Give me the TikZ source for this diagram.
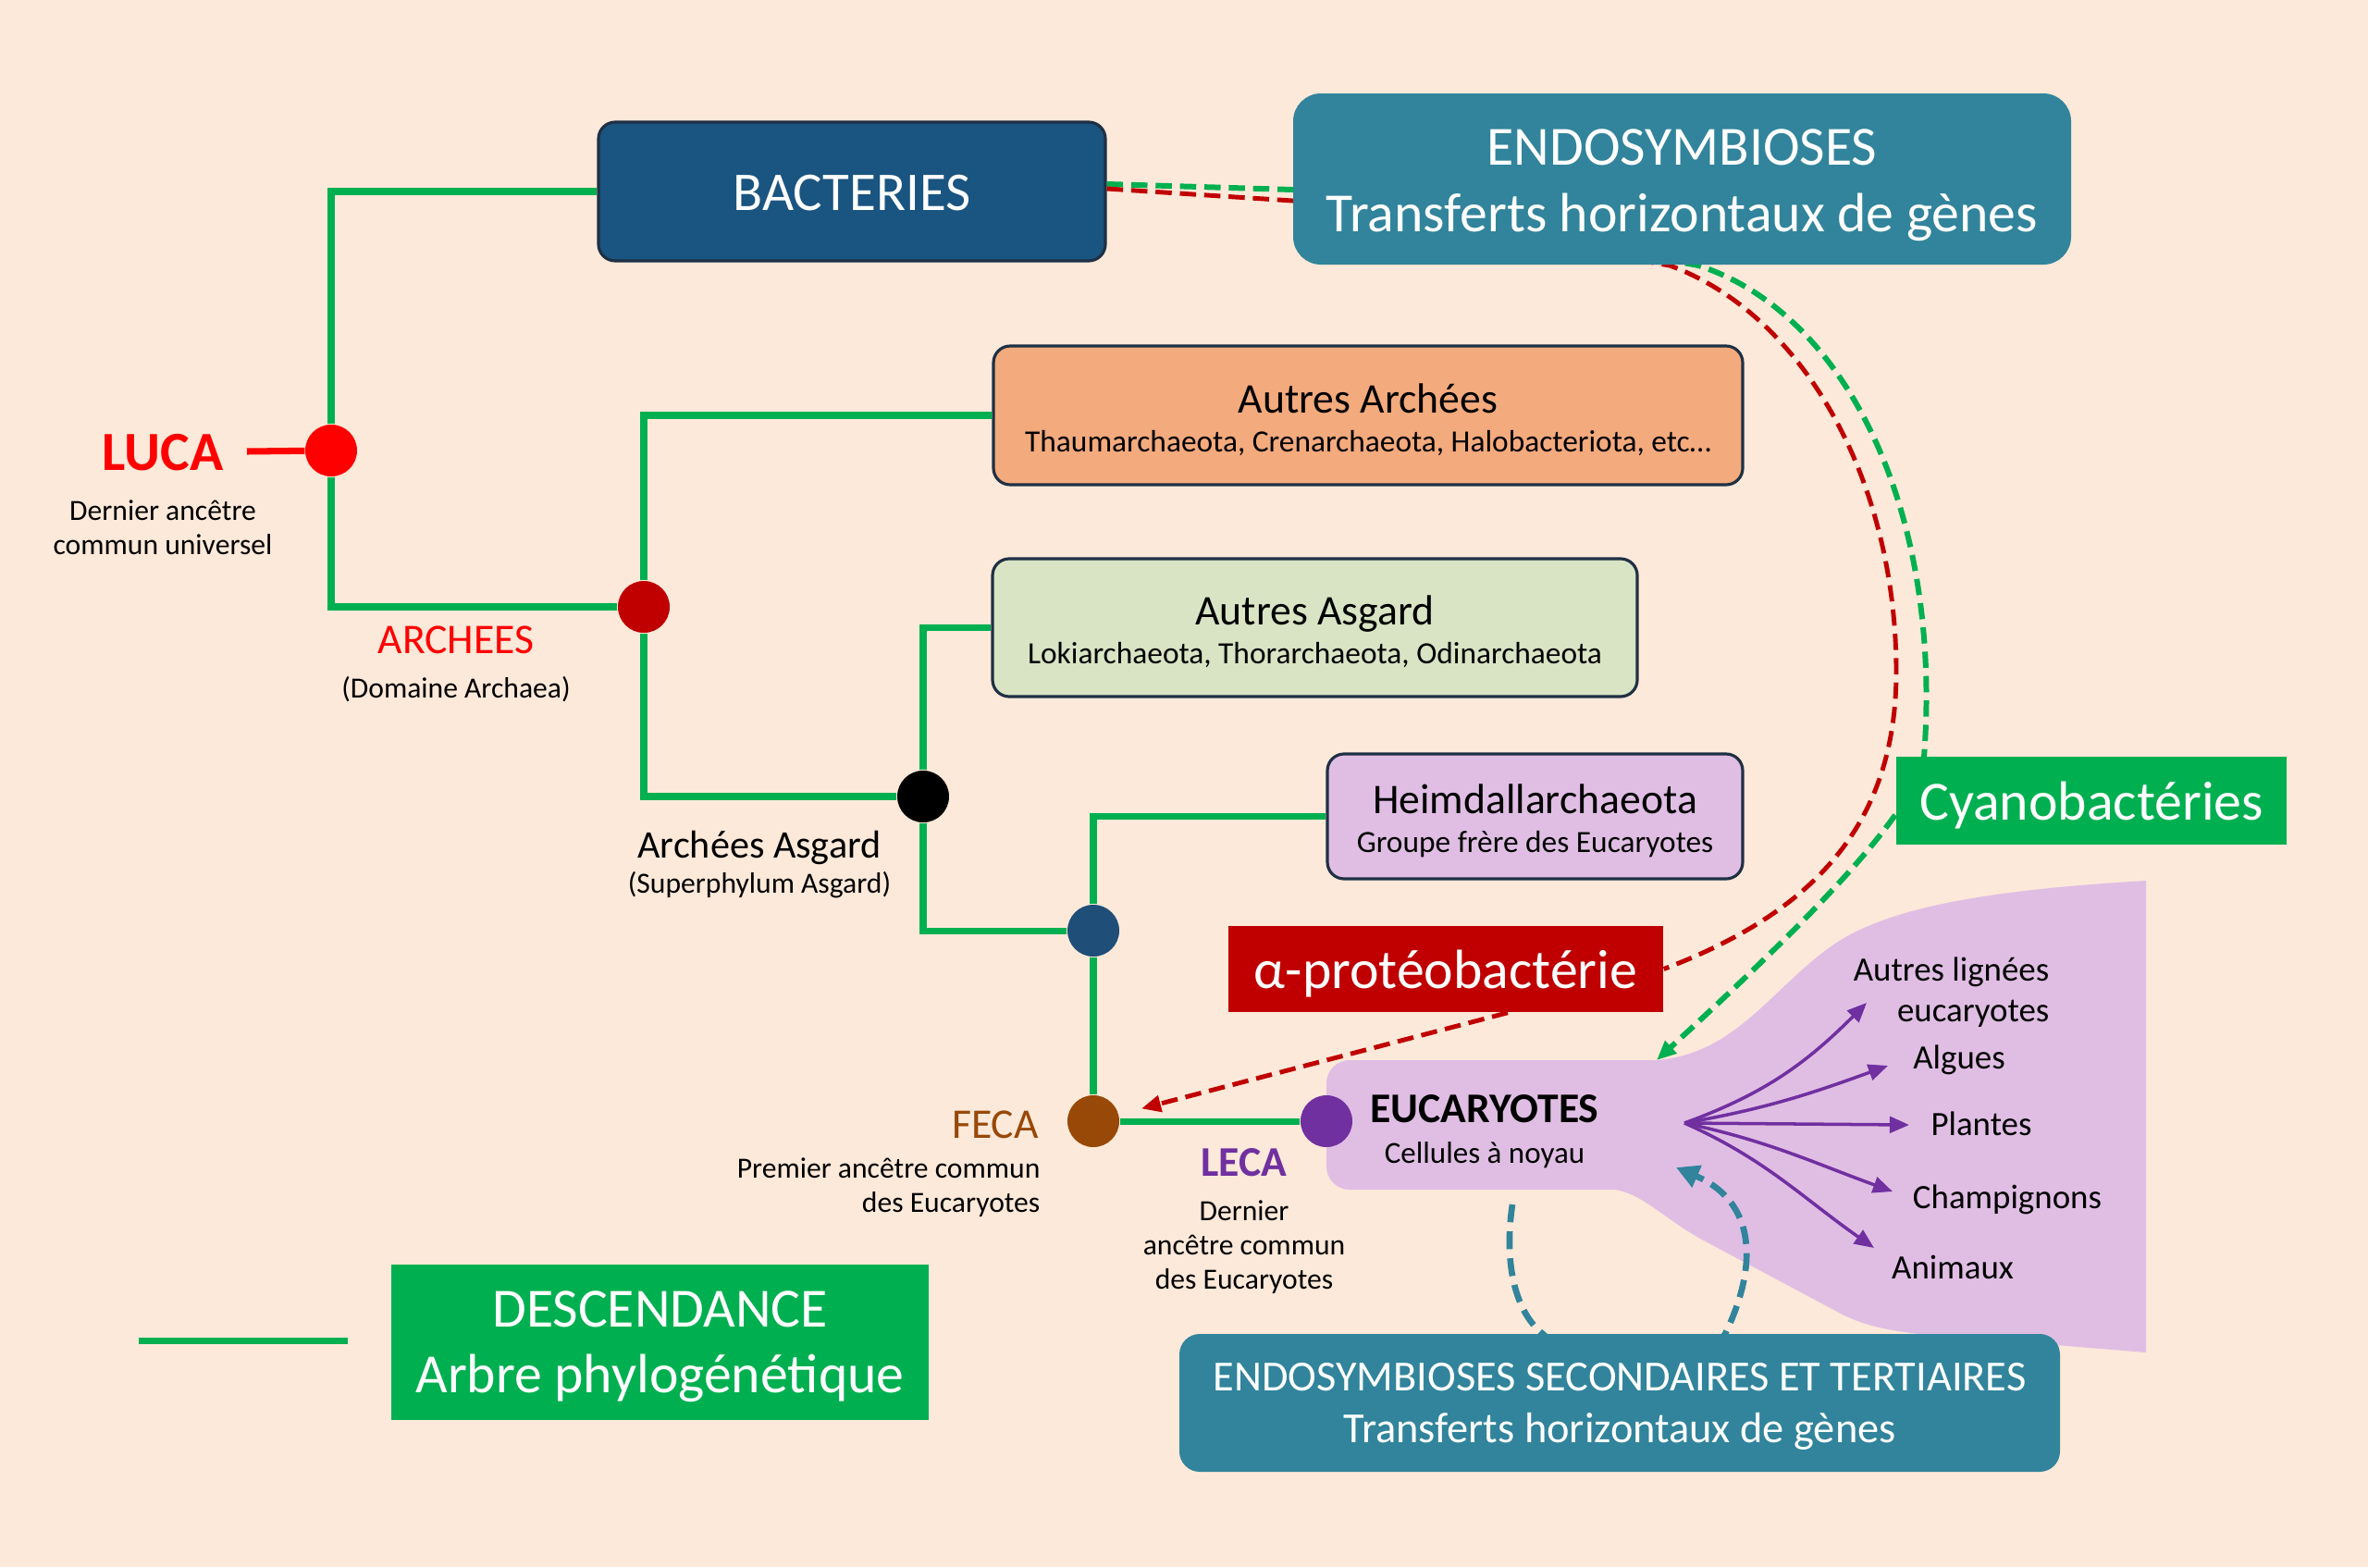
\documentclass[tikz,border=0pt]{standalone}
\usepackage{fontspec}
\setmainfont{Carlito}
\usepackage{xcolor}
\usetikzlibrary{positioning, arrows.meta, calc}

\definecolor{peach}{HTML}{FDE9D9}
\definecolor{treegreen}{HTML}{00B050}
\definecolor{lucared}{HTML}{FF0000}
\definecolor{archred}{HTML}{C00000}
\definecolor{heimblue}{HTML}{1F4E79}
\definecolor{fecabrown}{HTML}{984807}
\definecolor{lecapurple}{HTML}{7030A0}
\definecolor{bactblue}{HTML}{1A5480}
\definecolor{boxline}{HTML}{1F3044}
\definecolor{tealbox}{HTML}{31849B}
\definecolor{archorange}{HTML}{F3AA7D}
\definecolor{asgardgreen}{HTML}{D8E4C3}
\definecolor{eulilac}{HTML}{E0BEE4}

\newcommand{\sz}[2]{\fontsize{#1}{#2}\selectfont}
\newcommand{\lift}[1]{\rule{0pt}{#1}}

\pgfdeclarelayer{paper}
\pgfdeclarelayer{links}
\pgfsetlayers{paper,links,main}

\begin{document}
\begin{tikzpicture}[
        knot/.style={circle, minimum size=0.56cm, inner sep=0pt},
        branch/.style={treegreen, line width=2pt},
        clade/.style={draw=boxline, line width=0.9pt, rounded corners=0.18cm, align=center, inner sep=0pt, font=\sz{9.5}{11.5}},
        banner/.style={align=center, inner sep=0pt, text=white},
        lbl/.style={align=center, inner sep=0pt, font=\sz{9}{10.5}},
        fanlbl/.style={inner sep=0pt, font=\sz{10.5}{12.5}},
        fanarrow/.style={lecapurple, line width=1pt, -{Triangle[length=6pt, width=5pt]}},
        redlink/.style={archred, line width=1.4pt, dash pattern=on 5pt off 2.5pt},
        greenlink/.style={treegreen, line width=1.7pt, dash pattern=on 5pt off 2.5pt},
        teallink/.style={tealbox, line width=1.9pt, dash pattern=on 5.5pt off 2.8pt}]
        \useasboundingbox (0,0) rectangle (25.6,-16.94);
        \begin{pgfonlayer}{paper}
          \fill[peach] (0,0) rectangle (25.6,-16.94);
          \fill[eulilac] (14.59,-11.46) -- (17.90,-11.46)
            .. controls (18.80,-11.40) and (19.20,-10.60) .. (19.90,-10.16)
            .. controls (20.50,-9.80) and (21.50,-9.62) .. (23.20,-9.52)
            -- (23.20,-14.62) -- (21.98,-14.52)
            .. controls (20.80,-14.44) and (20.30,-14.41) .. (19.90,-14.20) -- (18.40,-13.40)
            .. controls (18.00,-13.18) and (17.75,-12.90) .. (17.46,-12.86) -- (14.59,-12.86)
            arc[start angle=270, end angle=180, radius=0.25] -- (14.34,-11.71)
            arc[start angle=180, end angle=90, radius=0.25] -- cycle;
        \end{pgfonlayer}

        \node[clade, fill=bactblue, text=white, minimum width=5.48cm, minimum height=1.5cm, font=\sz{16.8}{20}] (bact) at (9.21,-2.07) {\lift{11.8pt}BACTERIES};
        \node[banner, fill=tealbox, rounded corners=0.3cm, minimum width=8.41cm, minimum height=1.85cm, font=\sz{17}{20.5}] (endo) at (18.185,-1.935) {\lift{14.7pt}ENDOSYMBIOSES\\Transferts horizontaux de gènes};
        \node[clade, fill=archorange, minimum width=8.10cm, minimum height=1.5cm] (autarch) at (14.79,-4.49) {{\sz{13}{15}\lift{11.9pt}Autres Archées}\\[0.5pt]Thaumarchaeota, Crenarchaeota, Halobacteriota, etc…};
        \node[clade, fill=asgardgreen, minimum width=6.97cm, minimum height=1.49cm] (autasg) at (14.215,-6.785) {{\sz{13}{15}\lift{11.4pt}Autres Asgard}\\[0.5pt]Lokiarchaeota, Thorarchaeota, Odinarchaeota};
        \node[clade, fill=eulilac, minimum width=4.49cm, minimum height=1.35cm] (heim) at (16.595,-8.825) {{\sz{13}{15}\lift{11.9pt}Heimdallarchaeota}\\[0.5pt]Groupe frère des Eucaryotes};
        \node[banner, fill=treegreen, minimum width=4.22cm, minimum height=0.95cm, font=\sz{17}{20}] (cyano) at (22.61,-8.655) {\lift{14.7pt}Cyanobactéries};
        \node[banner, fill=archred, minimum width=4.70cm, minimum height=0.93cm, font=\sz{17}{20}] (alpha) at (15.63,-10.475) {\lift{14.7pt}α-protéobactérie};
        \node[banner, fill=treegreen, minimum width=5.81cm, minimum height=1.68cm, font=\sz{17}{20}] (desc) at (7.135,-14.51) {\lift{13.8pt}DESCENDANCE\\Arbre phylogénétique};
        \node[banner, fill=tealbox, rounded corners=0.22cm, minimum width=9.52cm, minimum height=1.49cm, font=\sz{13.2}{16}] (endo2) at (17.51,-15.165) {\lift{10.8pt}ENDOSYMBIOSES SECONDAIRES ET TERTIAIRES\\Transferts horizontaux de gènes};

        \node[knot, fill=lucared] (luca) at (3.58,-4.87) {};
        \node[knot, fill=archred] (archees) at (6.96,-6.56) {};
        \node[knot, fill=black] (asgard) at (9.98,-8.61) {};
        \node[knot, fill=heimblue] (heimdall) at (11.82,-10.06) {};
        \node[knot, fill=fecabrown] (feca) at (11.82,-12.12) {};
        \node[knot, fill=lecapurple] (leca) at (14.34,-12.12) {};

        \node[inner sep=0pt, inner xsep=0.25cm, text=lucared, font=\sz{17}{20}\bfseries] (lucalbl) at (1.76,-4.89) {LUCA};
        \node[lbl] (lucasub) at (1.76,-5.70) {Dernier ancêtre\\commun universel};
        \node[lbl, text=lucared, font=\sz{13}{15}] (archlbl) at (4.93,-6.92) {ARCHEES};
        \node[lbl] (archsub) at (4.93,-7.45) {(Domaine Archaea)};
        \node[lbl, font=\sz{12}{14}] (asglbl) at (8.21,-9.16) {Archées Asgard};
        \node[lbl] (asgsub) at (8.21,-9.57) {(Superphylum Asgard)};
        \node[lbl, text=fecabrown, font=\sz{13}{15}] (fecalbl) at (10.76,-12.16) {FECA};
        \node[lbl, align=right, anchor=east] (fecasub) at (11.25,-12.84) {Premier ancêtre commun\\des Eucaryotes};
        \node[lbl, text=lecapurple, font=\sz{13}{15}\bfseries] (lecalbl) at (13.45,-12.57) {LECA};
        \node[lbl] (lecasub) at (13.45,-13.48) {Dernier\\ancêtre commun\\des Eucaryotes};
        \node[lbl, font=\sz{13}{15}\bfseries] (eulbl) at (16.05,-11.99) {EUCARYOTES};
        \node[lbl, font=\sz{9.4}{11}] (eusub) at (16.05,-12.49) {Cellules à noyau};

        \node[fanlbl, align=right, anchor=east] (autres) at (22.16,-10.73) {Autres lignées\\eucaryotes};
        \node[fanlbl] (algues) at (21.18,-11.46) {Algues};
        \node[fanlbl] (plantes) at (21.42,-12.15) {Plantes};
        \node[fanlbl] (champ) at (21.70,-12.97) {Champignons};
        \node[fanlbl] (animaux) at (21.11,-13.70) {Animaux};

        \coordinate (fan) at (18.21,-12.14);
        \coordinate (tipautres) at (20.18,-10.84);
        \coordinate (tipalgues) at (20.41,-11.52);
        \coordinate (tipplantes) at (20.64,-12.16);
        \coordinate (tipchamp) at (20.46,-12.88);
        \coordinate (tipanimaux) at (20.26,-13.49);
        \coordinate (eutop) at (17.91,-11.46);
        \coordinate (eustart) at (16.35,-13.02);
        \coordinate (eutip) at (18.12,-12.62);
        \coordinate (legendl) at (1.50,-14.49);
        \coordinate (legendr) at (3.76,-14.49);

        \draw[branch] (bact.west) -| (luca) |- (archees);
        \draw[branch] (autarch.west) -| (archees) |- (asgard);
        \draw[branch] (autasg.west) -| (asgard) |- (heimdall);
        \draw[branch] (heim.west) -| (heimdall) -- (feca) -- (leca);
        \draw[lucared, line width=2pt] (lucalbl) -- (luca);
        \draw[branch] (legendl) -- (legendr);

        \draw[fanarrow] (fan) to[out=20, in=225] (tipautres);
        \draw[fanarrow] (fan) to[out=10, in=200] (tipalgues);
        \draw[fanarrow] (fan) -- (tipplantes);
        \draw[fanarrow] (fan) to[out=-12, in=160] (tipchamp);
        \draw[fanarrow] (fan) to[out=-24, in=145] (tipanimaux);

        \begin{pgfonlayer}{links}
          \draw[greenlink, -{Triangle[length=6pt, width=5pt]}] ([yshift=0.08cm]bact.east) -- ([yshift=-0.115cm]endo.west) -- (18.36,-2.87)
            .. controls (20.00,-3.40) and (21.00,-5.60) .. (20.80,-8.18)
            .. controls (20.70,-8.80) and (19.50,-10.00) .. (eutop);
          \draw[redlink] ([yshift=0.03cm]bact.east) -- ([yshift=-0.235cm]endo.west) -- (18.05,-2.87)
            .. controls (19.50,-3.40) and (20.50,-5.20) .. (20.50,-7.26)
            .. controls (20.50,-9.00) and (19.50,-9.90) .. (alpha.east);
          \draw[redlink, -{Triangle[length=6pt, width=5pt]}, shorten >=0.25cm] ([xshift=0.67cm]alpha.south) -- (feca);
          \draw[teallink, -{Triangle[length=7pt, width=7pt]}] (eustart)
            .. controls (16.25,-13.70) and (16.40,-14.20) .. (16.68,-14.42)
            .. controls (17.20,-14.90) and (18.30,-14.90) .. (18.65,-14.42)
            .. controls (19.00,-13.70) and (19.00,-13.00) .. (eutip);
        \end{pgfonlayer}
      \end{tikzpicture}
\end{document}
